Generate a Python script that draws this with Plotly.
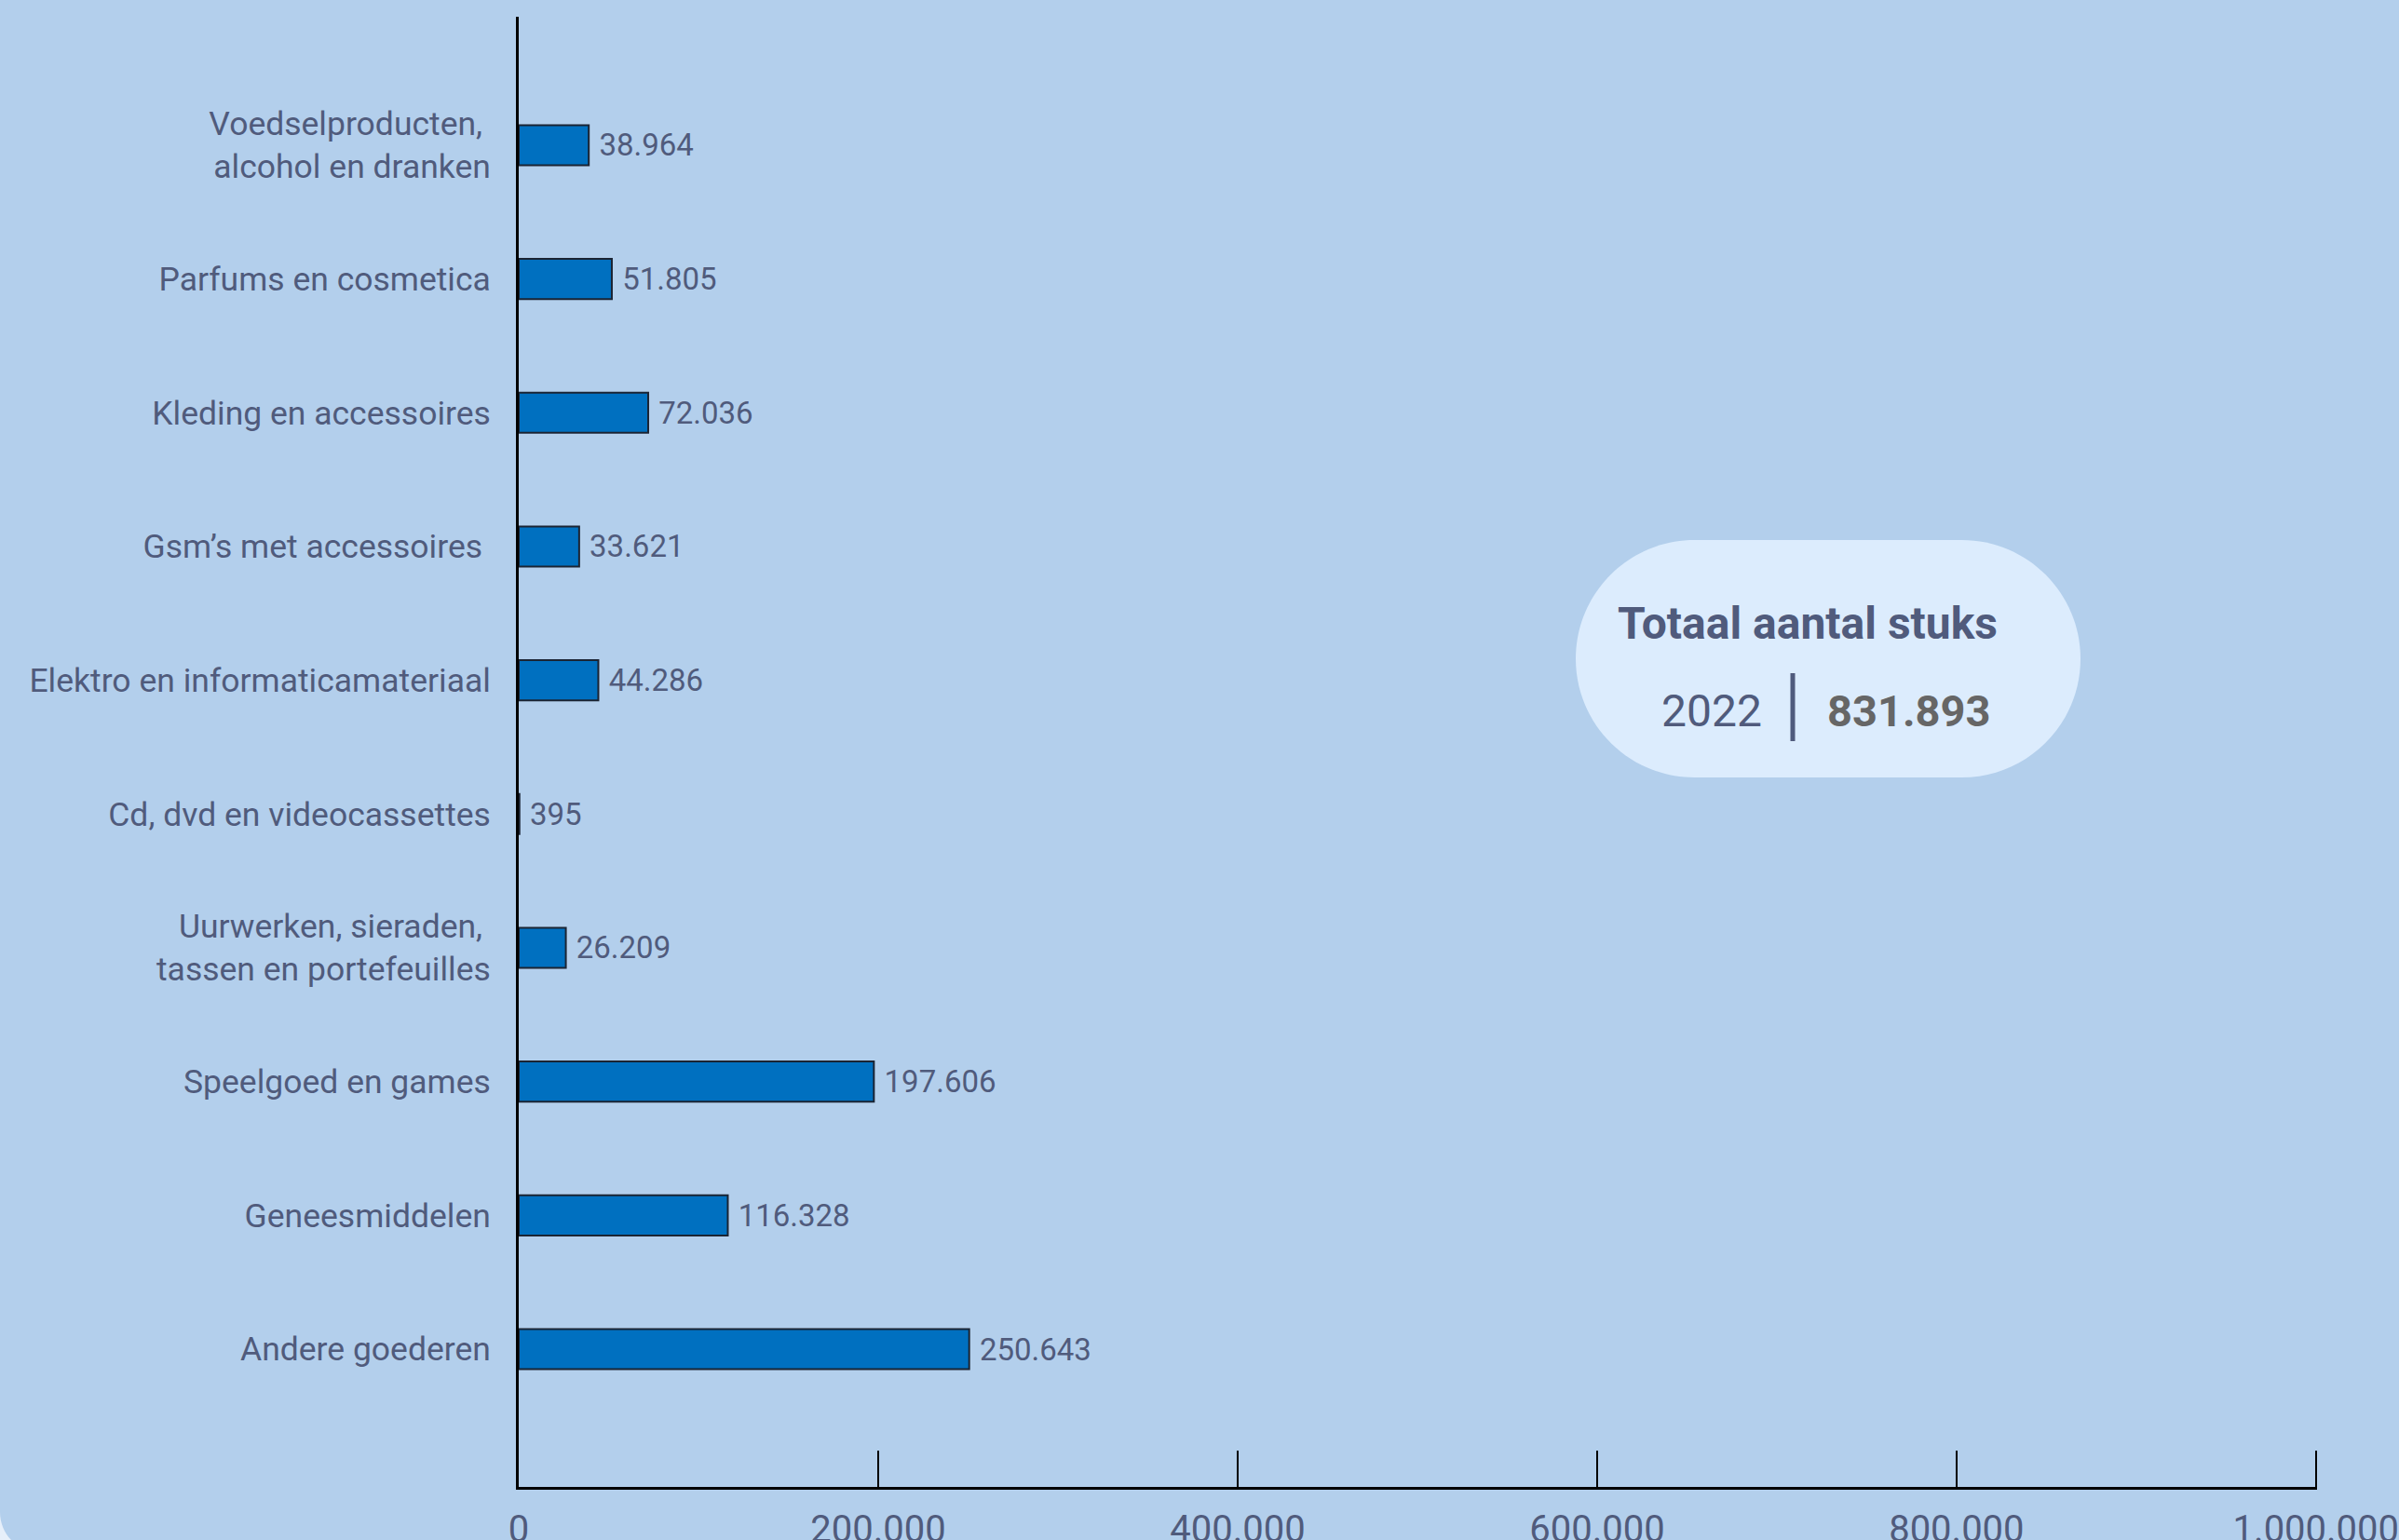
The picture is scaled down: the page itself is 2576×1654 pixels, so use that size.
import plotly.graph_objects as go

# ---- data (top to bottom as shown) ----
categories = [
    "Voedselproducten,\u00a0<br>alcohol en dranken",
    "Parfums en cosmetica",
    "Kleding en accessoires",
    "Gsm\u2019s met accessoires\u00a0",
    "Elektro en informaticamateriaal",
    "Cd, dvd en videocassettes",
    "Uurwerken, sieraden,\u00a0<br>tassen en portefeuilles",
    "Speelgoed en games",
    "Geneesmiddelen",
    "Andere goederen",
]
values = [38964, 51805, 72036, 33621, 44286, 395, 26209, 197606, 116328, 250643]
x_ticks = [0, 200000, 400000, 600000, 800000, 1000000]
total_title = "Totaal aantal stuks"
total_year = "2022"
total_value = 831893

# ---- layout geometry (pixels) ----
W, H = 2576, 1654
L, R, T, B = 557, 88, 18, 57
PW, PH = W - L - R, H - T - B

def px(x):
    return (x - L) / PW

def py(y):
    return (H - B - y) / PH

FONT = "Roboto, sans-serif"
TXT = "#505b7c"
BG = "#b3cfec"

fig = go.Figure(
    go.Bar(
        x=values,
        y=categories,
        orientation="h",
        width=0.3,
        marker=dict(color="#0070c0", line=dict(color="#1b2433", width=2)),
        texttemplate="\u00a0%{x:,}",
        textposition="outside",
        textfont=dict(family=FONT, size=33, color=TXT),
        cliponaxis=False,
        hoverinfo="skip",
    )
)

# pill-shaped total box
x0, x1, y0, y1 = 1692, 2234, 580, 835
r = (y1 - y0) / 2
k = 0.552 * r
cx0, cx1, cy = x0 + r, x1 - r, (y0 + y1) / 2
pts = [
    ("M", [(cx0, y0)]),
    ("L", [(cx1, y0)]),
    ("C", [(cx1 + k, y0), (x1, cy - k), (x1, cy)]),
    ("C", [(x1, cy + k), (cx1 + k, y1), (cx1, y1)]),
    ("L", [(cx0, y1)]),
    ("C", [(cx0 - k, y1), (x0, cy + k), (x0, cy)]),
    ("C", [(x0, cy - k), (cx0 - k, y0), (cx0, y0)]),
]
path = " ".join(
    cmd + " " + " ".join(f"{px(a):.5f},{py(b):.5f}" for a, b in p) for cmd, p in pts
) + " Z"
fig.add_shape(type="path", xref="paper", yref="paper", path=path,
              fillcolor="#dcecfd", line=dict(width=0), layer="below")

# rounded bottom-left corner of the card
cr = 43.5
corner = [
    ("M", [(0, 1624)]),
    ("C", [(0, 1624 + 0.552 * cr), (cr - 0.552 * cr, 1624 + cr), (cr, 1624 + cr)]),
    ("L", [(-5, 1624 + cr)]),
    ("L", [(-5, 1624)]),
]
cpath = " ".join(
    cmd + " " + " ".join(f"{px(a):.5f},{py(b):.5f}" for a, b in p) for cmd, p in corner
) + " Z"
fig.add_shape(type="path", xref="paper", yref="paper", path=cpath,
              fillcolor="#e6effa", line=dict(width=0), layer="above")

# separator line in total box
fig.add_shape(type="line", xref="paper", yref="paper",
              x0=px(1925), x1=px(1925), y0=py(723), y1=py(796),
              line=dict(color=TXT, width=5))

fig.add_annotation(xref="paper", yref="paper", x=px(1941), y=py(670),
                   text=f"<b>{total_title}</b>", showarrow=False,
                   xanchor="center", yanchor="middle",
                   font=dict(family=FONT, size=48, color=TXT))
fig.add_annotation(xref="paper", yref="paper", x=px(1894), y=py(763),
                   text=total_year, showarrow=False,
                   xanchor="right", yanchor="middle",
                   font=dict(family=FONT, size=48, color=TXT))
fig.add_annotation(xref="paper", yref="paper", x=px(1960), y=py(763),
                   text=f"<b>{total_value:,}</b>".replace(",", "."), showarrow=False,
                   xanchor="left", yanchor="middle",
                   font=dict(family=FONT, size=47, color="#666666"))

fig.update_layout(
    width=W, height=H,
    margin=dict(l=L, r=R, t=T, b=B, pad=0),
    paper_bgcolor=BG, plot_bgcolor=BG,
    separators=",.",
    showlegend=False,
    font=dict(family=FONT, color=TXT),
    xaxis=dict(
        range=[0, 1000600], tickvals=x_ticks, showgrid=False, zeroline=False,
        showline=True, linecolor="black", linewidth=3,
        ticks="inside", ticklen=39, tickwidth=2, tickcolor="black",
        tickformat=",", tickfont=dict(family=FONT, size=40, color=TXT),
        ticklabelstandoff=8, ticklabeloverflow="allow",
        automargin=False, fixedrange=True,
    ),
    yaxis=dict(
        categoryorder="array", categoryarray=categories,
        range=[len(categories) - 1 + 1.03, -0.96],
        showgrid=False, zeroline=False, showline=True, linecolor="black",
        linewidth=3, ticks="", ticklabelstandoff=20,
        tickfont=dict(family=FONT, size=35.5, color=TXT),
        automargin=False, fixedrange=True,
    ),
)

fig.write_html(
    "out.html",
    config={"displayModeBar": False, "staticPlot": True},
    post_script="document.body.style.margin='0';document.body.style.overflow='hidden';",
)
